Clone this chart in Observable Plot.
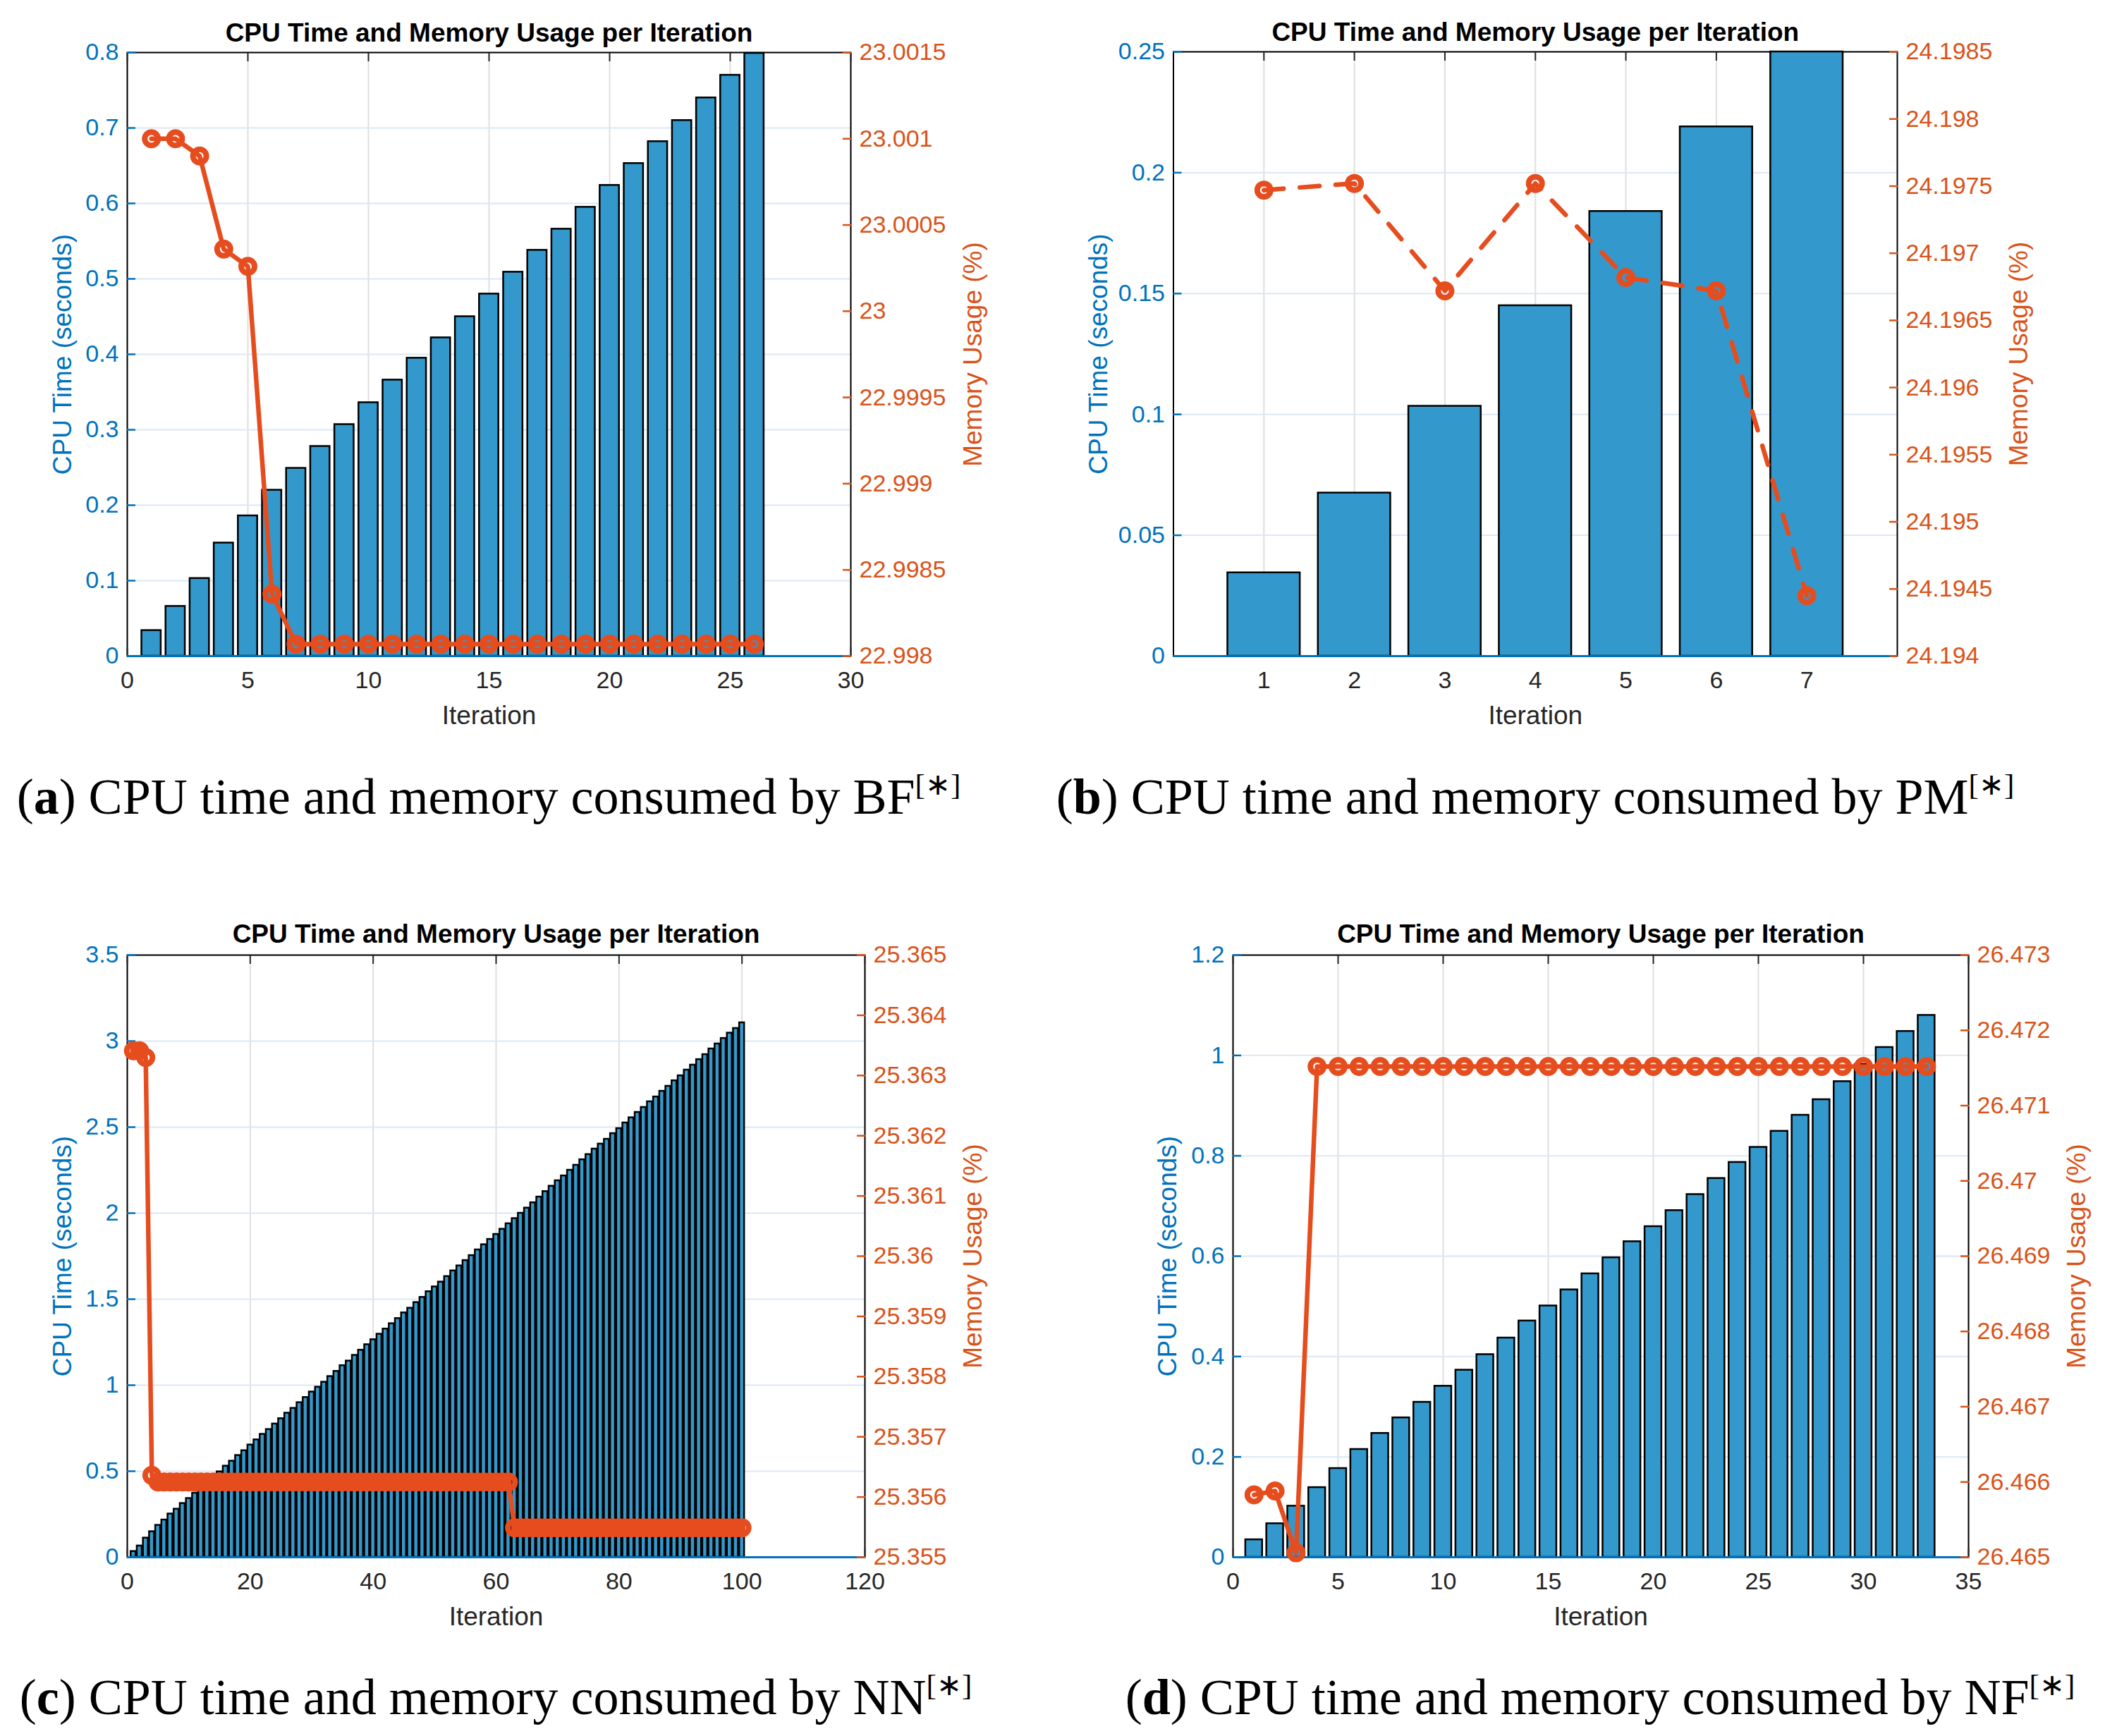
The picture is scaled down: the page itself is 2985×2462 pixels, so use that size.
<!DOCTYPE html>
<html><head><meta charset="utf-8">
<script src="https://cdn.jsdelivr.net/npm/d3@7"></script>
<script src="https://cdn.jsdelivr.net/npm/@observablehq/plot@0.6"></script>
<style>
body{margin:0;background:#fff;}
#page{position:relative;width:2985px;height:2462px;background:#fff;overflow:hidden;}
.panel{position:absolute;}
.panel svg{position:absolute;left:0;top:0;max-width:none !important;}
.cap{position:absolute;width:1600px;text-align:center;font-family:"Liberation Serif","Times New Roman",serif;font-size:72px;line-height:1;color:#000;white-space:nowrap;}
.cap sup{font-size:0.6em;vertical-align:0.62em;line-height:0;}
</style></head><body><div id="page"></div>
<script>
// ---------------- data ----------------
const TITLE = "CPU Time and Memory Usage per Iteration";
const X_LABEL = "Iteration";
const Y_LABEL = "CPU Time (seconds)";
const M_LABEL = "Memory Usage (%)";

// (a) BF
const bfIter = [1,2,3,4,5,6,7,8,9,10,11,12,13,14,15,16,17,18,19,20,21,22,23,24,25,26];
const bfCpu = [0.034,0.066,0.103,0.150,0.186,0.220,0.249,0.278,0.307,0.336,0.366,0.395,0.422,0.450,0.480,0.509,0.538,0.566,0.595,0.624,0.653,0.682,0.710,0.740,0.770,0.799];
const bfMem = [23.00100,23.00100,23.00090,23.00036,23.00026,22.99836,22.99807,22.99807,22.99807,22.99807,22.99807,22.99807,22.99807,22.99807,22.99807,22.99807,22.99807,22.99807,22.99807,22.99807,22.99807,22.99807,22.99807,22.99807,22.99807,22.99807];
const bfXTicks = [0,5,10,15,20,25,30];
const bfYTicks = [0,0.1,0.2,0.3,0.4,0.5,0.6,0.7,0.8];
const bfMTicks = [22.998,22.9985,22.999,22.9995,23,23.0005,23.001,23.0015];

// (b) PM
const pmIter = [1,2,3,4,5,6,7];
const pmCpu = [0.0345,0.0675,0.1034,0.145,0.184,0.219,0.25];
const pmMem = [24.19747,24.19752,24.19672,24.19752,24.19682,24.19672,24.19445];
const pmXTicks = [1,2,3,4,5,6,7];
const pmYTicks = [0,0.05,0.1,0.15,0.2,0.25];
const pmMTicks = [24.194,24.1945,24.195,24.1955,24.196,24.1965,24.197,24.1975,24.198,24.1985];

// (c) NN
const nnIter = [1,2,3,4,5,6,7,8,9,10,11,12,13,14,15,16,17,18,19,20,21,22,23,24,25,26,27,28,29,30,31,32,33,34,35,36,37,38,39,40,41,42,43,44,45,46,47,48,49,50,51,52,53,54,55,56,57,58,59,60,61,62,63,64,65,66,67,68,69,70,71,72,73,74,75,76,77,78,79,80,81,82,83,84,85,86,87,88,89,90,91,92,93,94,95,96,97,98,99,100];
const nnCpu = [0.034,0.066,0.112,0.149,0.186,0.217,0.252,0.280,0.313,0.342,
  0.373,0.404,0.435,0.466,0.497,0.530,0.559,0.592,0.620,0.653,
  0.683,0.715,0.743,0.775,0.806,0.838,0.866,0.899,0.929,0.961,
  0.989,1.018,1.051,1.081,1.114,1.141,1.174,1.204,1.236,1.265,
  1.297,1.327,1.358,1.388,1.421,1.448,1.481,1.511,1.544,1.572,
  1.600,1.632,1.665,1.694,1.725,1.754,1.787,1.817,1.848,1.877,
  1.907,1.939,1.969,2.000,2.030,2.061,2.094,2.126,2.157,2.189,
  2.217,2.250,2.279,2.311,2.341,2.373,2.402,2.430,2.463,2.492,
  2.525,2.555,2.586,2.615,2.648,2.676,2.709,2.738,2.770,2.799,
  2.832,2.861,2.893,2.922,2.955,2.984,3.016,3.047,3.074,3.107];
const nnMem = [25.36341,25.36341,25.36330,25.35636,
  25.35625,25.35625,25.35625,25.35625,25.35625,25.35625,25.35625,25.35625,25.35625,25.35625,
  25.35625,25.35625,25.35625,25.35625,25.35625,25.35625,25.35625,25.35625,25.35625,25.35625,
  25.35625,25.35625,25.35625,25.35625,25.35625,25.35625,25.35625,25.35625,25.35625,25.35625,
  25.35625,25.35625,25.35625,25.35625,25.35625,25.35625,25.35625,25.35625,25.35625,25.35625,
  25.35625,25.35625,25.35625,25.35625,25.35625,25.35625,25.35625,25.35625,25.35625,25.35625,
  25.35625,25.35625,25.35625,25.35625,25.35625,25.35625,25.35625,25.35625,
  25.35549,25.35549,25.35549,25.35549,25.35549,25.35549,25.35549,25.35549,25.35549,25.35549,
  25.35549,25.35549,25.35549,25.35549,25.35549,25.35549,25.35549,25.35549,25.35549,25.35549,
  25.35549,25.35549,25.35549,25.35549,25.35549,25.35549,25.35549,25.35549,25.35549,25.35549,
  25.35549,25.35549,25.35549,25.35549,25.35549,25.35549,25.35549,25.35549];
const nnXTicks = [0,20,40,60,80,100,120];
const nnYTicks = [0,0.5,1,1.5,2,2.5,3,3.5];
const nnMTicks = [25.355,25.356,25.357,25.358,25.359,25.36,25.361,25.362,25.363,25.364,25.365];

// (d) NF
const nfIter = [1,2,3,4,5,6,7,8,9,10,11,12,13,14,15,16,17,18,19,20,21,22,23,24,25,26,27,28,29,30,31,32,33];
const nfCpu = [0.035,0.067,0.102,0.139,0.177,0.215,0.247,0.278,0.309,0.341,0.373,0.404,0.437,0.471,0.501,0.533,0.565,0.597,0.629,0.659,0.691,0.723,0.755,0.787,0.817,0.849,0.881,0.912,0.948,0.982,1.016,1.048,1.080];
const nfMem = [26.46583,26.46588,26.46506,26.47152,26.47152,26.47152,26.47152,26.47152,26.47152,26.47152,26.47152,26.47152,26.47152,26.47152,26.47152,26.47152,26.47152,26.47152,26.47152,26.47152,26.47152,26.47152,26.47152,26.47152,26.47152,26.47152,26.47152,26.47152,26.47152,26.47152,26.47152,26.47152,26.47152];
const nfXTicks = [0,5,10,15,20,25,30,35];
const nfYTicks = [0,0.2,0.4,0.6,0.8,1,1.2];
const nfMTicks = [26.465,26.466,26.467,26.468,26.469,26.47,26.471,26.472,26.473];

const captions = [
  {tag:"a", text:"CPU time and memory consumed by BF"},
  {tag:"b", text:"CPU time and memory consumed by PM"},
  {tag:"c", text:"CPU time and memory consumed by NN"},
  {tag:"d", text:"CPU time and memory consumed by NF"}
];

// ---------------- style ----------------
const BLUE = "#0072BD", ORANGE = "#D95319", LINE = "#E64D1E", BAR = "#3399CC";
const FONT = "'Liberation Sans', Arial, Helvetica, sans-serif";
const TICK_FS = 34, LABEL_FS = 37, TITLE_FS = 37;
const page = document.getElementById("page");

function panel(p) {
  const data = p.iters.map((it, k) => ({it, cpu: p.cpu[k], mem: p.mem[k]}));
  const div = document.createElement("div");
  div.className = "panel";
  Object.assign(div.style, {left: p.left + "px", top: p.top + "px", width: p.W + "px", height: p.H + "px"});
  const common = {
    width: p.W, height: p.H,
    marginLeft: p.mL, marginRight: p.mR, marginTop: p.mT, marginBottom: p.mB,
    style: {background: "transparent", fontFamily: FONT, overflow: "visible"}
  };
  const fmt = d => String(d);
  const bars = Plot.plot({
    ...common,
    x: {type: "linear", domain: p.xDomain},
    y: {type: "linear", domain: p.yDomain},
    marks: [
      Plot.gridX(p.xTicks, {stroke: "#DFDFDF", strokeOpacity: 1, strokeWidth: 2}),
      Plot.gridY(p.yTicks, {stroke: "#DCE8F3", strokeOpacity: 1, strokeWidth: 2}),
      Plot.frame({stroke: "#000", strokeWidth: 2}),
      Plot.axisX(p.xTicks, {anchor: "top", tickSize: -12, tickFormat: () => "", label: null, stroke: "#262626", strokeWidth: 2}),
      Plot.axisX(p.xTicks, {anchor: "bottom", tickSize: -12, tickPadding: 33, fontSize: TICK_FS, label: null, color: "#262626", strokeWidth: 2, tickFormat: fmt}),
      Plot.axisY(p.yTicks, {anchor: "left", tickSize: -12, tickPadding: 24, fontSize: TICK_FS, label: null, color: BLUE, line: true, strokeWidth: 2.5, tickFormat: fmt}),
      Plot.rectY(data, {x1: d => d.it - 0.4, x2: d => d.it + 0.4, y1: 0, y2: "cpu", fill: BAR, stroke: "#000", strokeWidth: p.barStroke}),
      Plot.ruleY([0], {stroke: BLUE, strokeWidth: 3}),
      Plot.text([TITLE], {frameAnchor: "top", dy: p.titleDy, fontSize: TITLE_FS, fontWeight: "bold", textAnchor: "middle", lineAnchor: "middle", fill: "#000"}),
      Plot.text([X_LABEL], {frameAnchor: "bottom", dy: 85, fontSize: LABEL_FS, textAnchor: "middle", lineAnchor: "middle", fill: "#262626"}),
      Plot.text([Y_LABEL], {frameAnchor: "left", dx: -p.lOff, rotate: -90, fontSize: LABEL_FS, textAnchor: "middle", lineAnchor: "middle", fill: BLUE})
    ]
  });
  const mem = Plot.plot({
    ...common,
    x: {type: "linear", domain: p.xDomain, axis: null},
    y: {type: "linear", domain: p.mDomain, axis: null},
    marks: [
      Plot.axisY(p.mTicks, {anchor: "right", tickSize: -12, tickPadding: 24, fontSize: TICK_FS, label: null, color: ORANGE, line: true, strokeWidth: 2.5, tickFormat: fmt}),
      Plot.line(data, {x: "it", y: "mem", stroke: LINE, strokeWidth: p.lineW, strokeDasharray: p.dash}),
      Plot.dot(data, {x: "it", y: "mem", r: 9.5, stroke: LINE, strokeWidth: 8, fill: "none"}),
      Plot.text([M_LABEL], {frameAnchor: "right", dx: p.rOff, rotate: -90, fontSize: LABEL_FS, textAnchor: "middle", lineAnchor: "middle", fill: ORANGE})
    ]
  });
  div.appendChild(bars);
  div.appendChild(mem);
  page.appendChild(div);

  const cap = document.createElement("div");
  cap.className = "cap";
  cap.style.left = (p.capX - 800) + "px";
  cap.style.top = (p.capY - 37) + "px";
  cap.innerHTML = `(<b>${p.cap.tag}</b>) ${p.cap.text}<sup>[∗]</sup>`;
  page.appendChild(cap);
}

panel({left: 0, top: 0, W: 1440, H: 1060, mL: 180, mR: 234, mT: 74, mB: 130,
  xDomain: [0, 30], xTicks: bfXTicks, yDomain: [0, 0.8], yTicks: bfYTicks, mDomain: [22.998, 23.0015], mTicks: bfMTicks,
  iters: bfIter, cpu: bfCpu, mem: bfMem, dash: null, lineW: 6.5, barStroke: 2.5,
  titleDy: -27, lOff: 91, rOff: 174, cap: captions[0], capX: 693, capY: 1131});

panel({left: 1490, top: 0, W: 1440, H: 1060, mL: 173.5, mR: 240, mT: 73, mB: 130,
  xDomain: [0, 8], xTicks: pmXTicks, yDomain: [0, 0.25], yTicks: pmYTicks, mDomain: [24.194, 24.1985], mTicks: pmMTicks,
  iters: pmIter, cpu: pmCpu, mem: pmMem, dash: "28,23", lineW: 6.5, barStroke: 2.5,
  titleDy: -27, lOff: 106, rOff: 173, cap: captions[1], capX: 2177, capY: 1131});

panel({left: 0, top: 1290, W: 1440, H: 1060, mL: 180, mR: 214, mT: 64, mB: 142,
  xDomain: [0, 120], xTicks: nnXTicks, yDomain: [0, 3.5], yTicks: nnYTicks, mDomain: [25.355, 25.365], mTicks: nnMTicks,
  iters: nnIter, cpu: nnCpu, mem: nnMem, dash: null, lineW: 6.5, barStroke: 2.5,
  titleDy: -29, lOff: 91, rOff: 154, cap: captions[2], capX: 703, capY: 2408});

panel({left: 1560, top: 1290, W: 1425, H: 1060, mL: 188, mR: 194, mT: 64, mB: 142,
  xDomain: [0, 35], xTicks: nfXTicks, yDomain: [0, 1.2], yTicks: nfYTicks, mDomain: [26.465, 26.473], mTicks: nfMTicks,
  iters: nfIter, cpu: nfCpu, mem: nfMem, dash: null, lineW: 6.5, barStroke: 2.5,
  titleDy: -29, lOff: 92, rOff: 154, cap: captions[3], capX: 2269, capY: 2408});
</script></body></html>
